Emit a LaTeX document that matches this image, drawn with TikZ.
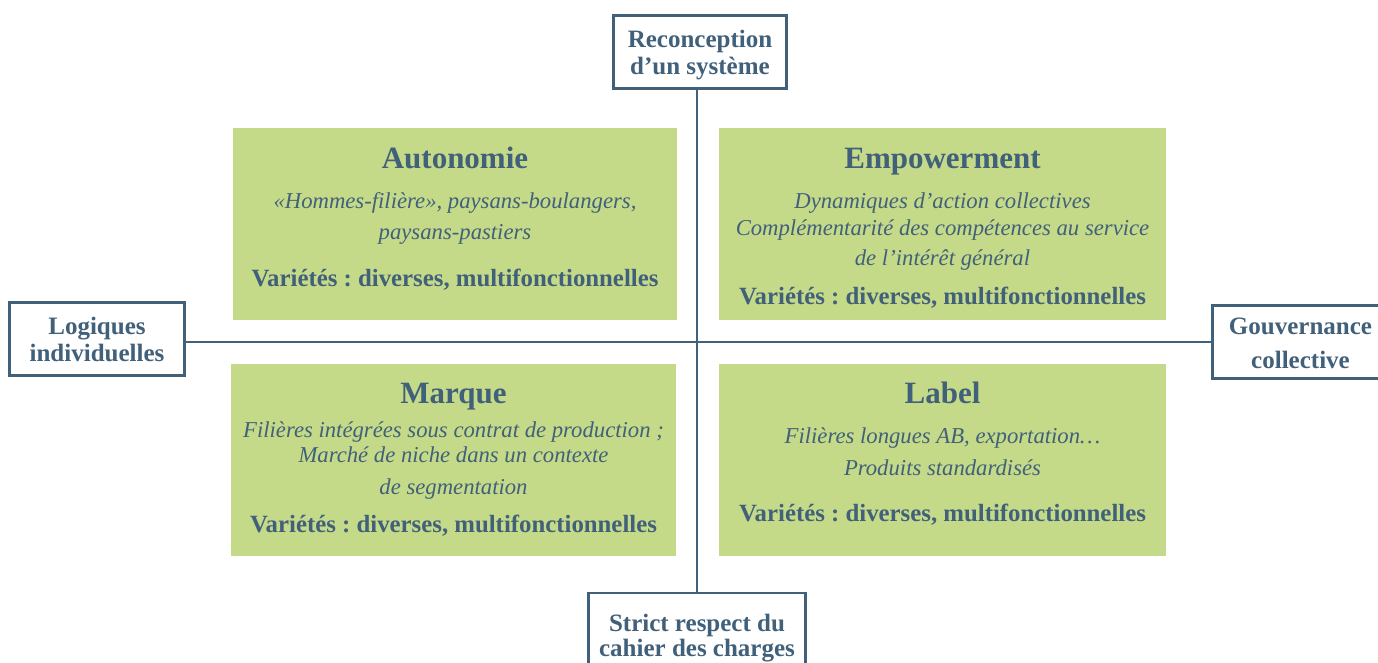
\documentclass[tikz,border=0pt]{standalone}
\usepackage{fontspec}
\setmainfont{Liberation Serif}
\frenchspacing
\definecolor{ink}{HTML}{41607A}
\definecolor{leaf}{HTML}{C5DA89}
\begin{document}
\begin{tikzpicture}[x=1pt,y=-1pt,
  axisbox/.style={draw=ink,line width=2.8pt,fill=white,text=ink,align=center,inner sep=0pt},
  quad/.style={fill=leaf,inner sep=0pt,minimum height=192pt},
  ttl/.style={text=ink,font=\fontsize{31}{31}\selectfont\bfseries,anchor=base,inner sep=0pt},
  itl/.style={text=ink,font=\fontsize{22.7}{22.7}\selectfont\itshape,anchor=base,inner sep=0pt},
  bld/.style={text=ink,font=\fontsize{24.8}{24.8}\selectfont\bfseries,anchor=base,inner sep=0pt},
  axisline/.style={draw=ink,line width=2.8pt}]
\useasboundingbox (0,0) rectangle (1378,662);
\clip (0,0) rectangle (1378,662);
\fill[white] (0,0) rectangle (1378,662);

% quadrants
\node[quad,minimum width=444pt] (qTL) at (455,224) {};
\node[quad,minimum width=447pt] (qTR) at (942.5,224) {};
\node[quad,minimum width=445pt] (qBL) at (453.5,460) {};
\node[quad,minimum width=447pt] (qBR) at (942.5,460) {};

% axis boxes
\node[axisbox,minimum width=173pt,minimum height=73pt,font=\fontsize{25}{27}\selectfont\bfseries] (top) at (700,52) {\rule{0pt}{24pt}Reconception\\d’un système};
\node[axisbox,minimum width=175pt,minimum height=73pt,font=\fontsize{25}{27}\selectfont\bfseries] (lft) at (97,339) {\rule{0pt}{19pt}Logiques\\individuelles};
\node[axisbox,minimum width=176pt,minimum height=73pt,font=\fontsize{25}{34}\selectfont\bfseries] (rgt) at (1300.5,342) {\rule{0pt}{20pt}Gouvernance\\collective};
\node[axisbox,minimum width=217pt,minimum height=90pt,font=\fontsize{25}{25}\selectfont\bfseries] (bot) at (697,638) {Strict respect du\\cahier des charges};

% axes
\draw[axisline] (top.south -| bot.north) -- (bot.north);
\draw[axisline] (lft.east |- rgt.west) -- (rgt.west);

% TL
\node[ttl] (tTL) at (455,168) {Autonomie};
\node[itl] (iTLa) at (455,208) {«Hommes-filière», paysans-boulangers,};
\node[itl] (iTLb) at (455,239) {paysans-pastiers};
\node[bld] (bTL) at (455,286) {Variétés : diverses, multifonctionnelles};

% TR
\node[ttl] (tTR) at (942.5,168) {Empowerment};
\node[itl] (iTRa) at (942.5,208) {Dynamiques d’action collectives};
\node[itl] (iTRb) at (942.5,235) {Complémentarité des compétences au service};
\node[itl] (iTRc) at (942.5,265) {de l’intérêt général};
\node[bld] (bTR) at (942.5,304) {Variétés : diverses, multifonctionnelles};

% BL
\node[ttl] (tBL) at (453.5,403) {Marque};
\node[itl] (iBLa) at (453.5,437) {Filières intégrées sous contrat de production ;};
\node[itl] (iBLb) at (453.5,462) {Marché de niche dans un contexte};
\node[itl] (iBLc) at (453.5,494) {de segmentation};
\node[bld] (bBL) at (453.5,532) {Variétés : diverses, multifonctionnelles};

% BR
\node[ttl] (tBR) at (942.5,403) {Label};
\node[itl] (iBRa) at (942.5,443) {Filières longues AB, exportation…};
\node[itl] (iBRb) at (942.5,475) {Produits standardisés};
\node[bld] (bBR) at (942.5,521) {Variétés : diverses, multifonctionnelles};
\end{tikzpicture}
\end{document}
